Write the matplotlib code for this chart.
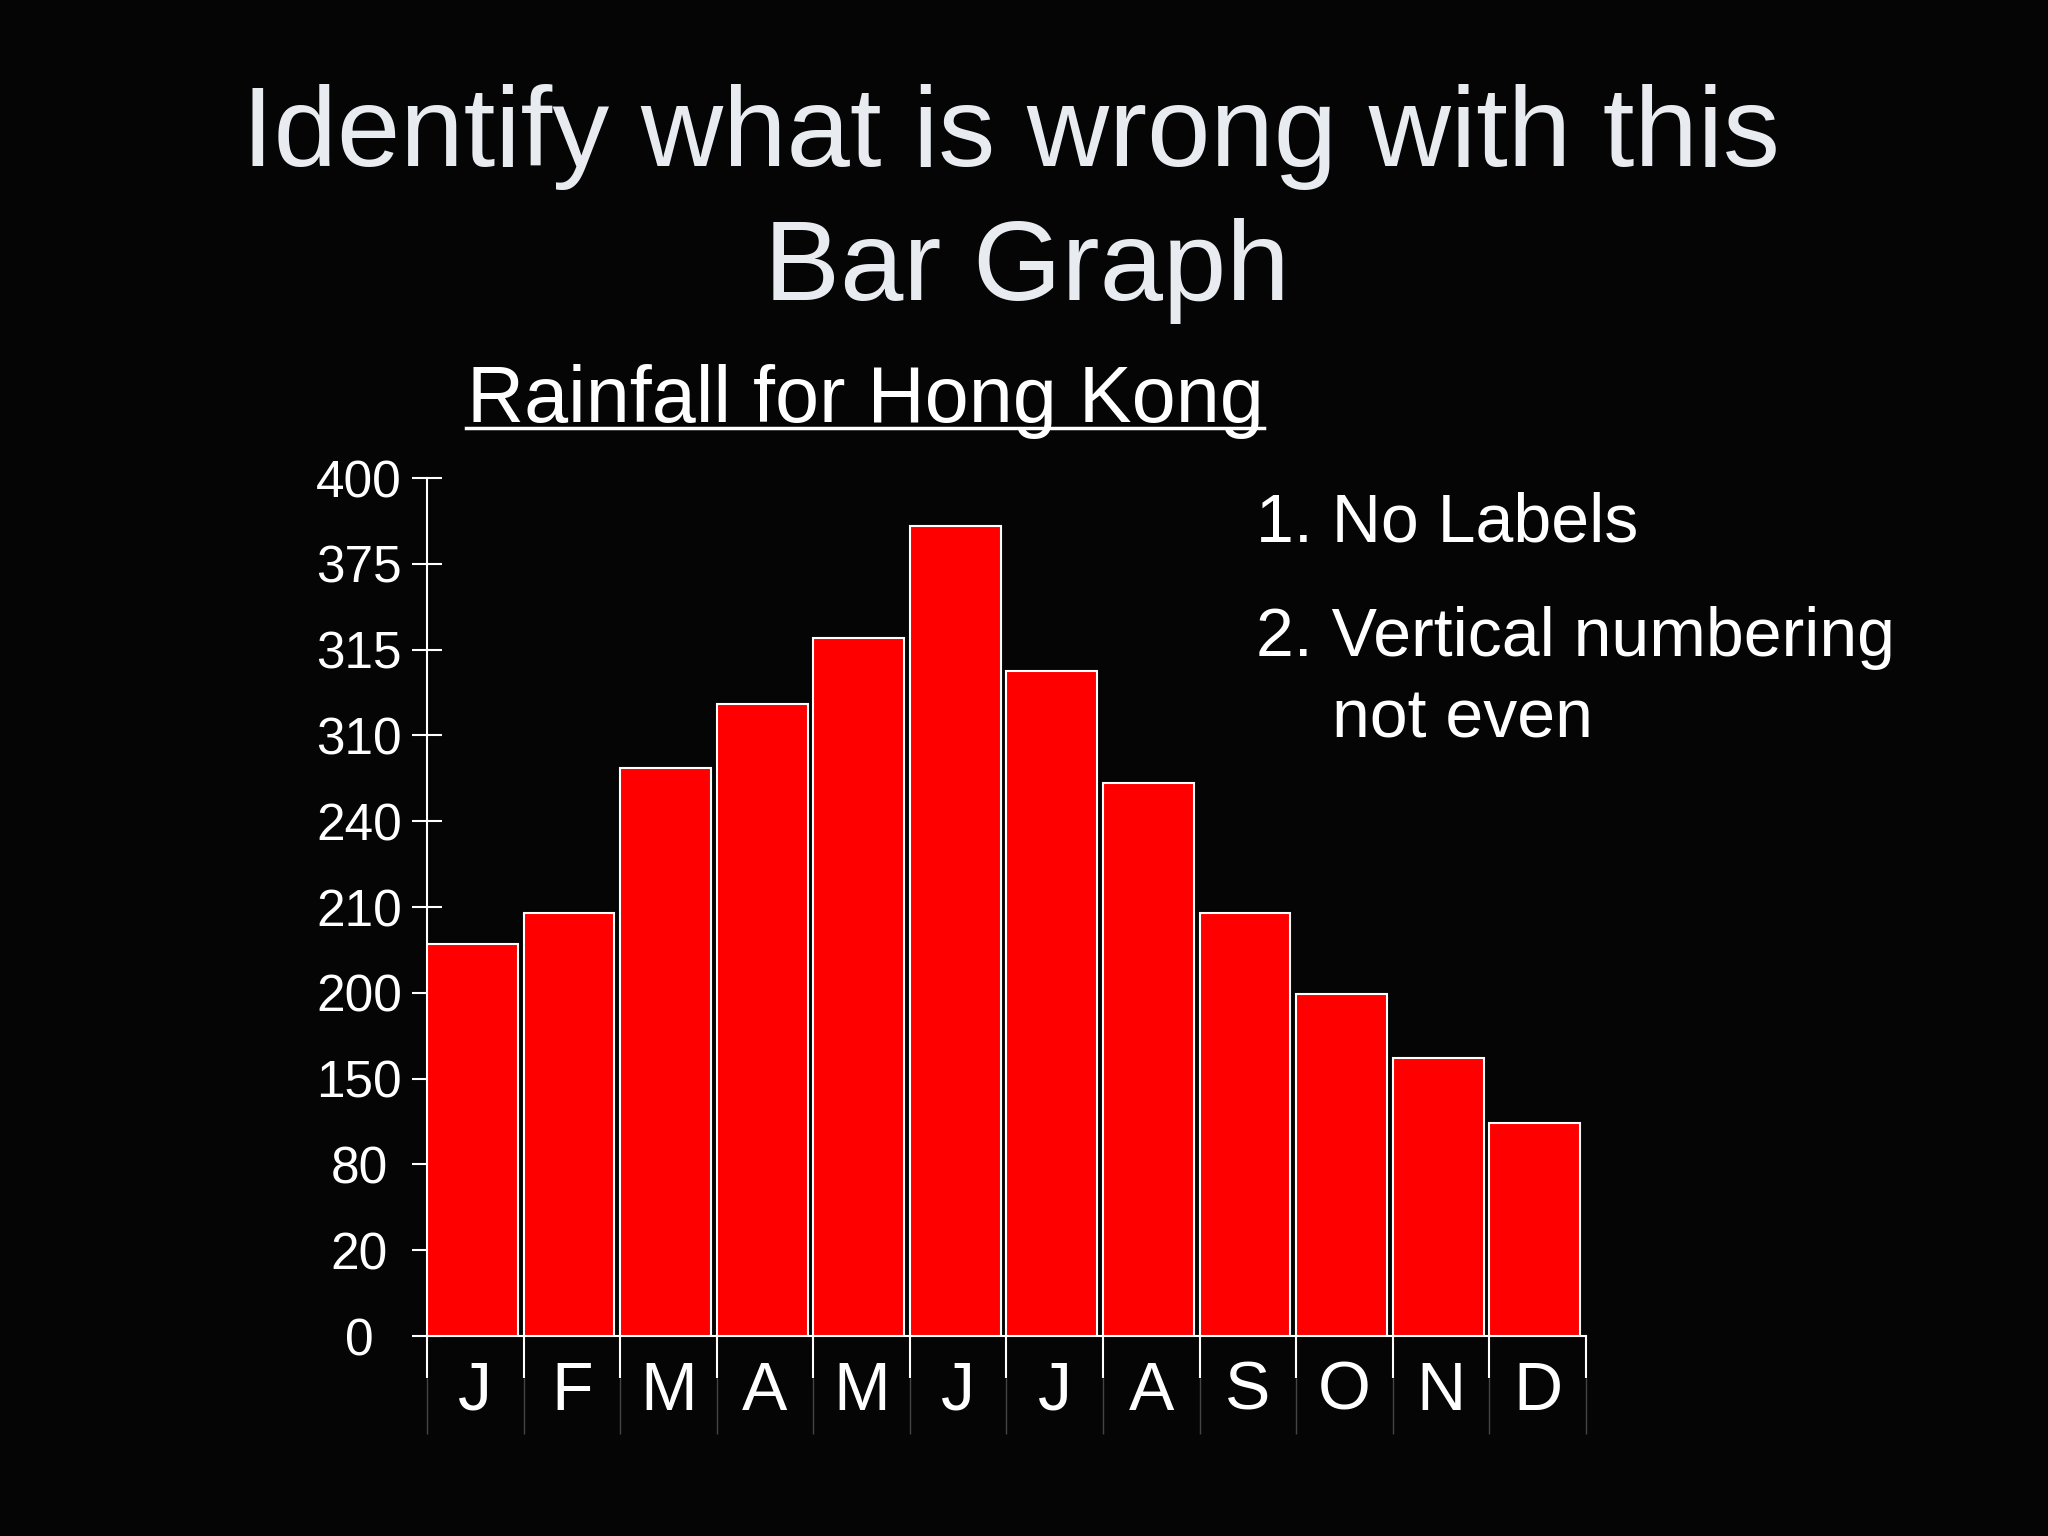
import numpy as np
import matplotlib.pyplot as plt

plt.rcParams['font.family'] = ['Liberation Sans', 'DejaVu Sans']

months = ['J', 'F', 'M', 'A', 'M', 'J', 'J', 'A', 'S', 'O', 'N', 'D']
# bar heights measured in tick steps (the axis has evenly spaced ticks with uneven labels)
heights = [4.57, 4.93, 6.62, 7.37, 8.13, 9.44, 7.75, 6.44, 4.93, 3.99, 3.24, 2.48]
ytick_labels = ['0', '20', '80', '150', '200', '210', '240', '310', '315', '375', '400']

bg = '#050505'
fig = plt.figure(figsize=(20.48, 15.36), dpi=100, facecolor=bg)
ax = fig.add_axes([0.2085, 0.1302, 0.5659, 0.5586], facecolor=bg)

x = np.arange(len(months))
ax.bar(x, heights, width=0.94, align='edge', color='#ff0000',
       edgecolor='white', linewidth=1.5, zorder=3)

ax.set_xlim(0, 12)
ax.set_ylim(0, 10)

for s in ['top', 'right']:
    ax.spines[s].set_visible(False)
for s in ['left', 'bottom']:
    ax.spines[s].set_color('white')
    ax.spines[s].set_linewidth(1.5)

ax.set_yticks(range(len(ytick_labels)))
ax.set_yticklabels(ytick_labels)
ax.tick_params(axis='y', direction='inout', length=22, width=1.5, color='white',
               labelcolor='white', labelsize=37, pad=38)
for lab in ax.get_yticklabels():
    lab.set_horizontalalignment('center')

ax.set_xticks(x + 0.5)
ax.set_xticklabels(months)
ax.tick_params(axis='x', which='major', length=0, labelcolor='white',
               labelsize=49, pad=17)
ax.set_xticks(np.arange(13), minor=True)
ax.tick_params(axis='x', which='minor', direction='out', length=30, width=1.5,
               color='white')
ax.vlines(np.arange(13), -1.14, -0.49, color='#444444', lw=1, clip_on=False)

fig.text(0.4935, 0.892, 'Identify what is wrong with this', ha='center',
         va='baseline', fontsize=82, color='#e8ecf0')
fig.text(0.5013, 0.805, 'Bar Graph', ha='center', va='baseline',
         fontsize=82, color='#e8ecf0')

fig.text(0.4225, 0.725, 'Rainfall for Hong Kong', ha='center', va='baseline',
         fontsize=57, color='white')
fig.add_artist(plt.Line2D([466 / 2048, 1264 / 2048], [1 - 428 / 1536] * 2,
                          color='white', lw=2.5))

fig.text(1256 / 2048, 1 - 541 / 1536, '1. No Labels', fontsize=49,
         color='white', va='baseline')
fig.text(1256 / 2048, 1 - 656 / 1536, '2. Vertical numbering', fontsize=49,
         color='white', va='baseline')
fig.text(1332 / 2048, 1 - 738 / 1536, 'not even', fontsize=49,
         color='white', va='baseline')

fig.savefig('out.png', dpi=100, facecolor=bg)
